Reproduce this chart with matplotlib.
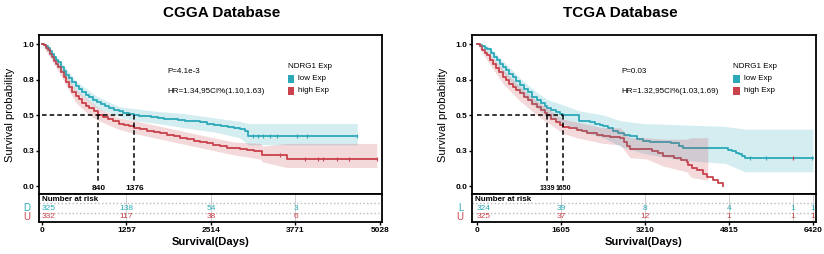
import matplotlib
matplotlib.use("Agg")
import matplotlib.pyplot as plt
from matplotlib.patches import Rectangle

plt.rcParams['font.family'] = ['Liberation Sans', 'DejaVu Sans']

LOW = '#2BA9B9'
HIGH = '#C9424C'

# ---- CGGA data ----
cgga_low_t = [0, 30, 60, 90, 120, 150, 180, 210, 240, 280, 320, 360, 400, 450, 500, 550, 600, 650, 700,
              760, 820, 880, 940, 1000, 1070, 1140, 1210, 1290, 1376, 1450, 1530, 1620, 1720, 1820, 1920,
              2020, 2120, 2230, 2351, 2450, 2560, 2660, 2760, 2850, 2940, 3020, 3070, 3300, 3700, 4200, 4690]
cgga_low_s = [1.0, 0.995, 0.985, 0.97, 0.95, 0.93, 0.91, 0.89, 0.87, 0.84, 0.81, 0.785, 0.76, 0.73, 0.705,
              0.68, 0.66, 0.64, 0.625, 0.605, 0.59, 0.575, 0.56, 0.55, 0.535, 0.525, 0.515, 0.505, 0.50,
              0.495, 0.49, 0.485, 0.48, 0.475, 0.47, 0.465, 0.46, 0.455, 0.45, 0.44, 0.43, 0.425, 0.415,
              0.41, 0.40, 0.39, 0.35, 0.35, 0.35, 0.35, 0.35]
cgga_low_band_t = [0, 240, 500, 820, 1140, 1376, 1720, 2120, 2560, 2940, 3070, 3300, 4690]
cgga_low_band_lo = [1.0, 0.84, 0.67, 0.55, 0.49, 0.46, 0.44, 0.41, 0.38, 0.34, 0.29, 0.29, 0.29]
cgga_low_band_hi = [1.0, 0.90, 0.74, 0.63, 0.56, 0.545, 0.525, 0.51, 0.48, 0.455, 0.44, 0.44, 0.44]
cgga_low_cens = [3140, 3215, 3290, 3395, 3500, 3795, 3945, 4690]

cgga_high_t = [0, 30, 60, 90, 120, 150, 180, 210, 240, 280, 320, 360, 400, 450, 500, 550, 600, 650, 700,
               770, 840, 910, 980, 1060, 1140, 1220, 1300, 1376, 1460, 1560, 1660, 1760, 1860, 1960, 2060,
               2160, 2260, 2351, 2450, 2550, 2650, 2750, 2848, 2950, 3050, 3150, 3250, 3280, 3500, 3645,
               4200, 4980]
cgga_high_s = [1.0, 0.99, 0.975, 0.955, 0.93, 0.905, 0.88, 0.86, 0.84, 0.80, 0.765, 0.73, 0.70, 0.665,
               0.635, 0.61, 0.585, 0.565, 0.55, 0.53, 0.50, 0.485, 0.47, 0.455, 0.44, 0.43, 0.42, 0.41,
               0.40, 0.39, 0.38, 0.37, 0.36, 0.35, 0.34, 0.33, 0.32, 0.31, 0.30, 0.29, 0.28, 0.27, 0.265,
               0.26, 0.255, 0.25, 0.245, 0.22, 0.22, 0.19, 0.19, 0.19]
cgga_high_band_t = [0, 240, 500, 700, 840, 1140, 1376, 1860, 2351, 2848, 3250, 3280, 3645, 4980]
cgga_high_band_lo = [1.0, 0.81, 0.59, 0.50, 0.46, 0.40, 0.37, 0.32, 0.27, 0.22, 0.19, 0.17, 0.13, 0.13]
cgga_high_band_hi = [1.0, 0.87, 0.68, 0.60, 0.55, 0.48, 0.46, 0.41, 0.36, 0.31, 0.30, 0.28, 0.30, 0.30]
cgga_high_cens = [3540, 3915, 4110, 4180, 4390, 4570, 4980]

cgga_medians = [840, 1376]
cgga_risk_t = [0, 1257, 2514, 3771]
cgga_risk_low = [325, 138, 54, 3]
cgga_risk_high = [332, 117, 38, 6]
cgga_ticks = [0, 1257, 2514, 3771, 5028]

# ---- TCGA data ----
tcga_low_t = [0, 50, 100, 150, 200, 260, 320, 380, 440, 500, 560, 620, 680, 740, 820, 900, 980, 1060,
              1140, 1220, 1290, 1339, 1420, 1500, 1580, 1650, 1760, 1905, 1950, 2050, 2150, 2250, 2350,
              2410, 2500, 2600, 2700, 2800, 2923, 3050, 3175, 3300, 3560, 3700, 3850, 3940, 4100, 4740,
              4800, 4870, 4940, 5010, 5070, 5120, 6420]
tcga_low_s = [1.0, 0.995, 0.985, 0.975, 0.965, 0.94, 0.91, 0.885, 0.86, 0.84, 0.815, 0.79, 0.765, 0.74,
              0.71, 0.685, 0.66, 0.63, 0.606, 0.585, 0.565, 0.55, 0.535, 0.52, 0.51, 0.50, 0.50, 0.50,
              0.46, 0.455, 0.45, 0.44, 0.43, 0.42, 0.41, 0.39, 0.375, 0.36, 0.352, 0.33, 0.315, 0.312,
              0.31, 0.30, 0.285, 0.27, 0.265, 0.265, 0.255, 0.245, 0.235, 0.225, 0.21, 0.20, 0.20]
tcga_low_band_t = [0, 200, 500, 820, 1140, 1339, 1650, 1950, 2410, 2735, 3175, 3940, 4740, 5120, 6420]
tcga_low_band_lo = [1.0, 0.94, 0.80, 0.66, 0.55, 0.49, 0.44, 0.39, 0.34, 0.28, 0.23, 0.18, 0.16, 0.10, 0.10]
tcga_low_band_hi = [1.0, 0.99, 0.88, 0.76, 0.66, 0.61, 0.57, 0.53, 0.50, 0.46, 0.44, 0.43, 0.42, 0.40, 0.40]
tcga_low_cens = [5215, 5520, 6395]
tcga_odd_cens = [6030]

tcga_high_t = [0, 50, 100, 150, 185, 240, 300, 360, 420, 500, 560, 620, 680, 740, 820, 900, 980, 1060,
               1140, 1220, 1290, 1339, 1420, 1500, 1580, 1650, 1760, 1905, 2000, 2100, 2200, 2300, 2410,
               2550, 2735, 2800, 2860, 2923, 3242, 3350, 3450, 3560, 3755, 3900, 4010, 4040, 4100, 4200,
               4320, 4390, 4500, 4600, 4694]
tcga_high_s = [1.0, 0.985, 0.96, 0.94, 0.92, 0.89, 0.86, 0.83, 0.80, 0.77, 0.745, 0.72, 0.695, 0.675,
               0.653, 0.63, 0.605, 0.58, 0.555, 0.535, 0.515, 0.50, 0.47, 0.45, 0.43, 0.418, 0.405, 0.394,
               0.385, 0.375, 0.37, 0.36, 0.35, 0.347, 0.34, 0.31, 0.285, 0.26, 0.26, 0.245, 0.23, 0.21,
               0.20, 0.185, 0.17, 0.15, 0.13, 0.11, 0.085, 0.066, 0.04, 0.02, 0.0]
tcga_high_band_t = [0, 185, 500, 820, 1140, 1339, 1650, 1905, 2410, 2735, 2923, 3242, 3560, 4010, 4100, 4410]
tcga_high_band_lo = [1.0, 0.89, 0.72, 0.60, 0.50, 0.45, 0.37, 0.34, 0.30, 0.29, 0.20, 0.19, 0.14, 0.10,
                     0.06, 0.04]
tcga_high_band_hi = [1.0, 0.95, 0.82, 0.70, 0.60, 0.55, 0.47, 0.45, 0.41, 0.41, 0.34, 0.34, 0.33, 0.33,
                     0.34, 0.34]

tcga_medians = [1339, 1650]
tcga_risk_t = [0, 1605, 3210, 4815, 6030, 6420]
tcga_risk_low = [324, 39, 8, 4, 1, 1]
tcga_risk_high = [325, 37, 12, 1, 1, 1]
tcga_ticks = [0, 1605, 3210, 4815, 6420]

W, H = 824, 254
fig = plt.figure(figsize=(8.24, 2.54), dpi=100)


def px_axes(x0, x1, y0, y1):
    return fig.add_axes([x0 / W, 1 - y1 / H, (x1 - x0) / W, (y1 - y0) / H])


def surv_at(t, s, times):
    out = []
    for ct in times:
        idx = max(i for i in range(len(t)) if t[i] <= ct)
        out.append(s[idx])
    return out


def draw_panel(x0, x1, title, title_x, xlim, curves, medians, med_fs, ptxt, hrtxt, txt_x, leg_x,
               risk_t, risk_low, risk_high, row_labels, ticks, odd_cens=None):
    ax = px_axes(x0, x1, 35, 194)
    tab = px_axes(x0, x1, 194, 222)

    for c in curves:
        ax.step(c['t'], c['s'], where='post', color=c['color'], lw=1.3, zorder=2)
        ax.plot(c['cens'], surv_at(c['t'], c['s'], c['cens']), '|', color=c['color'],
                ms=3, mew=0.8, zorder=2)
    for c in curves:
        ax.fill_between(c['bt'], c['lo'], c['hi'], color=c['color'], alpha=0.2, lw=0, zorder=3)
    if odd_cens:
        c = curves[0]
        ax.plot(odd_cens, surv_at(c['t'], c['s'], odd_cens), '|', color=HIGH, ms=3, mew=0.8, zorder=4)

    ax.plot([0, max(medians)], [0.5, 0.5], ls=(0, (3, 2)), color='black', lw=1.1, zorder=5)
    for m in medians:
        ax.plot([m, m], [0.5, 0.035], ls=(0, (3, 2)), color='black', lw=1.1, zorder=5)
        ax.text(m, -0.02, str(m), ha='center', va='center', fontsize=med_fs, fontweight='bold')

    ax.set_xlim(*xlim)
    ax.set_ylim(-0.0563, 1.0634)
    ax.set_xticks([])
    ax.set_yticks([0, 0.25, 0.5, 0.75, 1.0])
    ax.set_yticklabels(['0.0', '0.3', '0.5', '0.8', '1.0'], fontsize=6, fontweight='bold')
    ax.tick_params(axis='y', length=2.5, width=1, pad=1)
    ax.set_ylabel('Survival probability', fontsize=8, labelpad=5)
    for sp in ax.spines.values():
        sp.set_linewidth(1.3)

    ax.text(txt_x, 0.77, ptxt, transform=ax.transAxes, fontsize=5.8, va='center')
    ax.text(txt_x, 0.645, hrtxt, transform=ax.transAxes, fontsize=5.8, va='center')

    ax.text(leg_x, 0.80, 'NDRG1 Exp', transform=ax.transAxes, fontsize=5.8, va='center')
    for i, (lab, col) in enumerate([('low Exp', LOW), ('high Exp', HIGH)]):
        yy = 0.725 - i * 0.077
        ax.add_patch(Rectangle((leg_x, yy - 0.025), 0.018, 0.05, transform=ax.transAxes,
                               color=col, lw=0))
        ax.text(leg_x + 0.03, yy, lab, transform=ax.transAxes, fontsize=5.8, va='center')

    fig.text(title_x / W, 1 - 13 / H, title, ha='center', va='center', fontsize=11, fontweight='bold')

    # risk table
    tab.set_xlim(*xlim)
    tab.set_ylim(0, 3)
    for xt in risk_t[1:]:
        tab.axvline(xt, color='#C8C8C8', lw=0.6)
    tab.axhline(2, color='#BBBBBB', ls=':', lw=1)
    tab.axhline(1, color='#BBBBBB', ls=':', lw=1)
    tab.text(xlim[0] + (xlim[1] - xlim[0]) * 0.01, 2.45, 'Number at risk', fontsize=5.8,
             fontweight='bold', va='center')
    for j, xt in enumerate(risk_t):
        ha = 'left' if j == 0 else 'center'
        tab.text(xt, 1.5, str(risk_low[j]), color=LOW, fontsize=6, ha=ha, va='center')
        tab.text(xt, 0.55, str(risk_high[j]), color=HIGH, fontsize=6, ha=ha, va='center')
    tab.text(-0.025, 1.5, row_labels[0], color=LOW, fontsize=7, ha='right', va='center',
             transform=tab.get_yaxis_transform())
    tab.text(-0.025, 0.55, row_labels[1], color=HIGH, fontsize=7, ha='right', va='center',
             transform=tab.get_yaxis_transform())
    tab.set_yticks([])
    tab.set_xticks(ticks)
    tab.set_xticklabels([str(v) for v in ticks], fontsize=6, fontweight='bold')
    tab.tick_params(axis='x', length=2.5, width=1, pad=1)
    for sp in tab.spines.values():
        sp.set_linewidth(1.3)
    tab.set_xlabel('Survival(Days)', fontsize=8, fontweight='bold', labelpad=2)


cgga_curves = [
    dict(t=cgga_low_t, s=cgga_low_s, bt=cgga_low_band_t, lo=cgga_low_band_lo, hi=cgga_low_band_hi,
         cens=cgga_low_cens, color=LOW),
    dict(t=cgga_high_t, s=cgga_high_s, bt=cgga_high_band_t, lo=cgga_high_band_lo, hi=cgga_high_band_hi,
         cens=cgga_high_cens, color=HIGH),
]
tcga_curves = [
    dict(t=tcga_low_t, s=tcga_low_s, bt=tcga_low_band_t, lo=tcga_low_band_lo, hi=tcga_low_band_hi,
         cens=tcga_low_cens, color=LOW),
    dict(t=tcga_high_t, s=tcga_high_s, bt=tcga_high_band_t, lo=tcga_high_band_lo, hi=tcga_high_band_hi,
         cens=[], color=HIGH),
]

draw_panel(39, 382, 'CGGA Database', 222, (-44.6, 5058), cgga_curves,
           cgga_medians, 6, 'P=4.1e-3', 'HR=1.34,95CI%(1.10,1.63)', 0.375, 0.726,
           cgga_risk_t, cgga_risk_low, cgga_risk_high, ['D', 'U'], cgga_ticks)

draw_panel(472, 816, 'TCGA Database', 620, (-95.5, 6477), tcga_curves,
           tcga_medians, 5, 'P=0.03', 'HR=1.32,95CI%(1.03,1.69)', 0.435, 0.76,
           tcga_risk_t, tcga_risk_low, tcga_risk_high, ['L', 'U'], tcga_ticks,
           odd_cens=tcga_odd_cens)

fig.savefig('out.png', dpi=100)
